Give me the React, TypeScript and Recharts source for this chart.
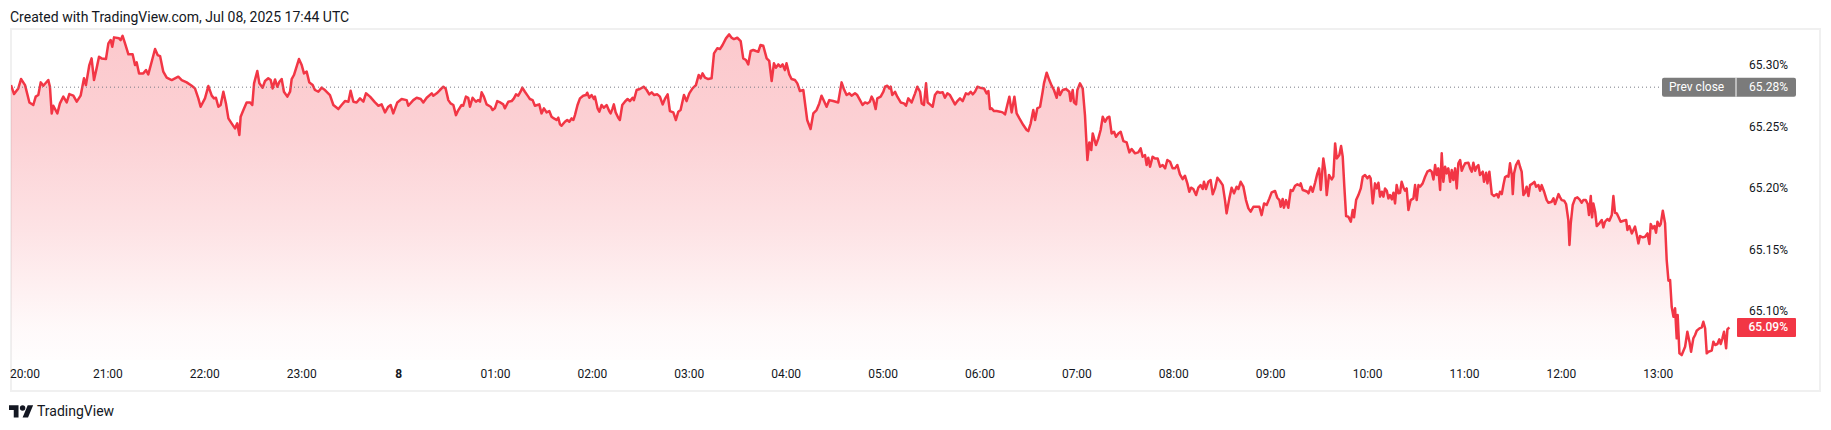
import React from "react";
import { AreaChart, Area, XAxis, YAxis, ReferenceLine } from "recharts";

// minutes since 20:00 (Jul 7), percent value
const evening: [number, number][] = [
  [0, 65.2837], [1.9, 65.2764], [4.5, 65.281], [6.2, 65.2886], [8.7, 65.2837], [11.4, 65.2696], [13.8, 65.2675], [15.3, 65.2743], [16.9, 65.2756], [18.4, 65.2859],
  [20.0, 65.2832], [23.1, 65.2878], [24.1, 65.2824], [25.2, 65.2607], [26.2, 65.2669], [28.7, 65.2607], [30.3, 65.2688], [32.4, 65.2743], [34.5, 65.2696], [36.1, 65.2764],
  [38.6, 65.2751], [40.7, 65.2702], [43.1, 65.2751], [45.2, 65.2892], [46.4, 65.2837], [48.5, 65.3], [49.9, 65.3054], [51.4, 65.2878], [53.0, 65.2973], [54.5, 65.3068],
  [56.1, 65.3054], [58.8, 65.3049], [60.3, 65.3176], [61.7, 65.3203], [62.7, 65.3149], [63.8, 65.3225], [66.9, 65.3217], [67.9, 65.3203], [69.1, 65.3238], [70.6, 65.3176],
  [72.7, 65.3087], [75.3, 65.3087], [76.8, 65.3], [77.8, 65.3022], [79.3, 65.2932], [81.9, 65.2932], [83.6, 65.2959], [85.0, 65.2924], [87.1, 65.3027], [89.2, 65.313],
  [90.8, 65.3081], [92.3, 65.3073], [94.3, 65.2946], [96.4, 65.2897], [99.5, 65.2878], [103.6, 65.2905], [105.7, 65.2878], [108.8, 65.2859], [111.9, 65.2832], [113.9, 65.281],
  [116.0, 65.2729], [117.4, 65.2661], [120.1, 65.2729], [122.2, 65.2829], [124.3, 65.2751], [125.7, 65.2729], [126.9, 65.2734], [128.4, 65.2661], [129.8, 65.2675], [131.5, 65.2783],
  [133.1, 65.2688], [134.6, 65.2566], [136.6, 65.2526], [138.7, 65.2485], [140.1, 65.2526], [141.4, 65.2431], [142.2, 65.258], [143.9, 65.2634], [145.9, 65.2696], [148.0, 65.2696],
  [149.4, 65.2675], [150.5, 65.2851], [152.5, 65.2951], [153.8, 65.2851], [155.8, 65.2816], [157.3, 65.287], [159.3, 65.2892], [160.8, 65.2878], [162.0, 65.281], [163.5, 65.2883],
  [164.9, 65.2824], [166.2, 65.2864], [167.6, 65.2886], [169.0, 65.2783], [171.1, 65.2743], [172.8, 65.2783], [173.8, 65.2886], [175.2, 65.2919], [178.3, 65.3049], [180.0, 65.3],
  [181.4, 65.2932], [183.1, 65.2946], [184.7, 65.2859], [186.8, 65.2837], [188.2, 65.2797], [190.3, 65.2783], [192.4, 65.2816], [194.4, 65.2797], [197.5, 65.2756], [199.6, 65.2675],
  [202.7, 65.2642], [204.7, 65.2675], [206.8, 65.2707], [208.9, 65.2702], [210.3, 65.2791], [212.0, 65.2702], [214.0, 65.2696], [216.1, 65.2729], [218.2, 65.2702], [219.8, 65.277],
  [222.3, 65.2743], [225.4, 65.2696], [227.5, 65.2669], [229.5, 65.268], [231.6, 65.2615], [233.6, 65.2661], [235.1, 65.2675], [236.7, 65.2607], [239.2, 65.2696], [241.9, 65.2724],
  [245.0, 65.2715], [246.0, 65.2669], [249.1, 65.2715], [251.2, 65.2734], [253.7, 65.2724], [255.3, 65.2696], [257.4, 65.2734], [260.5, 65.277], [261.5, 65.2751], [263.6, 65.277],
  [265.6, 65.2797],
];

const overnight: [number, number][] = [
  [267.7, 65.2824], [269.1, 65.281], [270.8, 65.2715], [272.2, 65.2688], [273.9, 65.2675], [275.5, 65.2593], [277.0, 65.2634], [279.0, 65.2675], [280.0, 65.2669], [281.7, 65.2743],
  [283.1, 65.2734], [284.2, 65.2661], [285.8, 65.2734], [287.9, 65.2702], [289.3, 65.2715], [290.4, 65.2702], [291.4, 65.2778], [292.8, 65.2743], [294.5, 65.268], [297.0, 65.2661],
  [298.2, 65.2634], [299.6, 65.2648], [301.1, 65.2707], [303.2, 65.2694], [304.8, 65.268], [305.8, 65.2648], [307.9, 65.2702], [310.0, 65.2707], [311.4, 65.2729], [312.7, 65.2762],
  [314.1, 65.2751], [315.5, 65.2783], [316.6, 65.2816], [318.2, 65.2783], [320.3, 65.2743], [321.3, 65.2724], [323.0, 65.2715], [324.4, 65.2669], [325.9, 65.2675], [327.1, 65.268],
  [328.5, 65.2607], [330.0, 65.2648], [331.6, 65.2615], [333.3, 65.2626], [334.7, 65.258], [336.2, 65.2566], [337.8, 65.2553], [338.9, 65.2572], [339.9, 65.2518], [340.9, 65.2507],
  [343.0, 65.2539], [344.4, 65.2553], [345.7, 65.2539], [347.1, 65.2566], [348.2, 65.2553], [349.2, 65.2593], [350.8, 65.2675], [352.3, 65.2729], [354.3, 65.2751], [356.0, 65.2756],
  [356.8, 65.2775], [358.1, 65.2734], [359.5, 65.2756], [361.0, 65.2724], [361.6, 65.2743], [363.2, 65.2648], [364.3, 65.2621], [365.7, 65.2675], [367.1, 65.2653], [368.8, 65.2675],
  [370.4, 65.2626], [371.3, 65.2607], [372.5, 65.2648], [373.3, 65.268], [374.4, 65.2615], [376.0, 65.2572], [377.0, 65.2553], [378.5, 65.2675], [380.1, 65.2702], [381.8, 65.2724],
  [383.2, 65.2707], [384.9, 65.2734], [385.7, 65.2715], [386.3, 65.2743], [387.4, 65.2797], [389.4, 65.2805], [391.9, 65.2824], [393.6, 65.2797], [395.2, 65.2762], [396.7, 65.2778],
  [398.3, 65.2756], [400.2, 65.2762], [401.8, 65.2743], [403.5, 65.268], [404.9, 65.2724], [406.6, 65.2762], [408.0, 65.2626], [410.1, 65.2615], [411.7, 65.2553], [413.2, 65.2621],
  [414.6, 65.2634], [416.7, 65.2756], [418.3, 65.2707], [420.0, 65.277], [422.0, 65.281], [424.1, 65.2837], [425.8, 65.2919], [427.0, 65.2892], [428.2, 65.2932], [429.7, 65.2897],
  [431.7, 65.2886], [433.8, 65.2892], [435.3, 65.3095], [437.3, 65.3136], [439.0, 65.313], [440.6, 65.3163], [442.7, 65.3217], [444.7, 65.3249], [446.2, 65.3222], [447.6, 65.3211],
  [449.7, 65.3222], [451.8, 65.3195], [453.4, 65.3054], [455.1, 65.3041], [456.5, 65.3005], [458.0, 65.3114], [459.6, 65.3122], [461.3, 65.3114], [462.7, 65.3108], [464.1, 65.3163],
  [465.8, 65.3157], [467.9, 65.3054], [469.5, 65.3033], [471.0, 65.287], [472.4, 65.3014], [473.6, 65.2978], [475.1, 65.3005], [476.5, 65.2986], [477.8, 65.3005], [479.2, 65.2959],
  [480.2, 65.3014], [481.9, 65.2924], [483.3, 65.2886], [485.4, 65.2878], [486.9, 65.2851], [488.5, 65.2789], [490.6, 65.2797], [493.0, 65.2553], [495.1, 65.248], [496.8, 65.2607],
  [498.8, 65.2634], [500.5, 65.2688], [501.9, 65.2751], [503.4, 65.2707], [505.0, 65.2661], [506.7, 65.2715], [509.1, 65.2707], [512.2, 65.2696], [514.3, 65.2859], [515.7, 65.2805],
  [517.4, 65.2756], [519.1, 65.277], [520.5, 65.2751], [522.6, 65.277], [524.0, 65.2756], [525.7, 65.2715], [527.3, 65.2675], [528.8, 65.2696], [530.2, 65.2688], [531.8, 65.2702],
];

const morning: [number, number][] = [
  [532.9, 65.2743], [534.0, 65.2715], [535.4, 65.2642], [536.4, 65.2729], [538.5, 65.2743], [540.2, 65.2783], [541.2, 65.2824], [542.6, 65.2832], [543.9, 65.281], [544.7, 65.2824],
  [545.7, 65.2756], [547.4, 65.2783], [548.8, 65.2743], [550.9, 65.2696], [552.9, 65.2688], [554.2, 65.2669], [555.6, 65.2729], [557.7, 65.2696], [559.8, 65.277], [561.2, 65.2824],
  [562.9, 65.2783], [563.9, 65.2688], [565.3, 65.2675], [566.6, 65.2851], [567.6, 65.2696], [569.0, 65.268], [570.7, 65.2661], [572.1, 65.2756], [573.6, 65.2783], [575.2, 65.2775],
  [576.9, 65.2778], [578.3, 65.2734], [579.8, 65.277], [581.4, 65.2756], [583.1, 65.2715], [584.5, 65.268], [586.0, 65.2707], [587.6, 65.2729], [589.3, 65.2707], [591.3, 65.277],
  [592.8, 65.2762], [594.2, 65.2783], [595.5, 65.2762], [596.9, 65.2783], [598.4, 65.2824], [600.0, 65.2816], [602.5, 65.281], [604.1, 65.277], [605.2, 65.2789], [606.2, 65.2642],
  [607.2, 65.2648], [608.7, 65.2626], [610.3, 65.2626], [612.4, 65.2621], [614.0, 65.2615], [615.5, 65.2599], [616.9, 65.2675], [618.2, 65.2743], [619.6, 65.2615], [621.3, 65.2743],
  [622.7, 65.2607], [624.4, 65.2566], [626.8, 65.2512], [628.9, 65.2472], [629.9, 65.2463], [631.4, 65.2526], [633.0, 65.2634], [634.1, 65.2553], [635.5, 65.2648], [637.2, 65.2661],
  [638.8, 65.2783], [639.6, 65.2851], [641.3, 65.2938], [642.9, 65.2878], [644.4, 65.2832], [645.8, 65.2797], [647.5, 65.2734], [648.5, 65.2816], [649.5, 65.2756], [651.2, 65.2797],
  [653.3, 65.2805], [655.3, 65.2783], [656.1, 65.2707], [657.4, 65.2797], [658.2, 65.2696], [659.5, 65.268], [660.3, 65.2797], [661.9, 65.2851], [663.6, 65.281], [665.0, 65.2593],
  [666.5, 65.2228], [667.7, 65.2371], [668.9, 65.2309], [669.8, 65.2444], [671.8, 65.235], [673.3, 65.2404], [674.7, 65.2472], [676.0, 65.258], [677.4, 65.2539], [678.9, 65.2572],
  [680.1, 65.258], [681.5, 65.2444], [683.0, 65.2458], [684.2, 65.2417], [685.7, 65.2444], [687.1, 65.2458], [688.8, 65.2382], [690.8, 65.2371], [692.5, 65.229], [693.9, 65.2317],
  [696.0, 65.2282], [698.0, 65.229], [699.5, 65.2322], [700.7, 65.2255], [702.2, 65.2268], [703.2, 65.2187], [704.2, 65.2247], [705.3, 65.2173], [706.9, 65.2255], [708.4, 65.2241],
  [710.0, 65.2241], [711.5, 65.2173], [713.1, 65.2187], [714.6, 65.216], [716.0, 65.2228], [717.7, 65.2214], [719.3, 65.216], [720.7, 65.216], [722.2, 65.2187], [723.8, 65.2111],
  [725.5, 65.2073], [726.9, 65.21], [728.4, 65.2038], [729.6, 65.197], [730.7, 65.2003], [732.1, 65.1992], [733.8, 65.1943], [735.2, 65.2003], [736.6, 65.2024], [737.9, 65.1992],
  [738.7, 65.2051], [739.9, 65.1992], [741.4, 65.2051], [742.8, 65.2065], [744.1, 65.1949], [745.5, 65.1997], [747.0, 65.2084], [748.6, 65.2057], [750.3, 65.2024], [751.7, 65.1902],
  [752.7, 65.1794], [754.4, 65.1916], [755.8, 65.2003], [757.3, 65.1957], [758.9, 65.2011], [760.0, 65.1992], [761.4, 65.2051], [763.1, 65.2011], [764.7, 65.1902], [766.2, 65.1835],
  [767.6, 65.1808], [769.3, 65.1848], [770.9, 65.1848], [773.0, 65.1848], [774.4, 65.178], [775.9, 65.1875], [777.5, 65.1862], [779.2, 65.1916], [780.6, 65.1965], [782.7, 65.1976],
  [784.1, 65.1921], [785.4, 65.1902], [786.2, 65.1848], [787.4, 65.1911], [788.2, 65.184], [789.5, 65.1902], [790.9, 65.184], [792.4, 65.1984], [793.6, 65.1976], [795.1, 65.2019],
  [796.5, 65.203], [798.2, 65.2019],
];

const session: [number, number][] = [
  [798.6, 65.2038], [799.8, 65.1984], [801.3, 65.1978], [802.7, 65.197], [803.4, 65.1957], [804.8, 65.2011], [806.0, 65.197], [807.5, 65.2043], [808.9, 65.2119], [810.0, 65.216],
  [811.0, 65.1984], [812.6, 65.2241], [813.7, 65.2146], [814.7, 65.1943], [816.1, 65.2106], [817.8, 65.207], [818.8, 65.2092], [819.9, 65.2363], [820.9, 65.2241], [822.5, 65.2268],
  [823.6, 65.2341], [824.6, 65.2255], [825.6, 65.2011], [826.7, 65.1772], [828.1, 65.1767], [829.6, 65.1726], [830.8, 65.1821], [831.6, 65.1762], [832.9, 65.1902], [834.3, 65.1943],
  [835.8, 65.1997], [837.0, 65.2092], [838.4, 65.2106], [839.9, 65.2079], [841.1, 65.2098], [841.9, 65.2079], [843.2, 65.1875], [844.6, 65.2038], [845.7, 65.1997], [846.7, 65.2043],
  [847.7, 65.193], [848.8, 65.197], [849.8, 65.193], [850.8, 65.1997], [851.9, 65.1978], [852.9, 65.1916], [853.9, 65.1943], [855.0, 65.1908], [856.0, 65.1962], [857.0, 65.1875],
  [858.0, 65.2024], [859.1, 65.1957], [860.1, 65.1962], [861.1, 65.2051], [862.2, 65.2005], [863.2, 65.1978], [864.2, 65.1997], [865.3, 65.1821], [866.7, 65.1902], [868.4, 65.1916],
  [869.4, 65.2024], [870.4, 65.1902], [871.5, 65.2024], [872.5, 65.2011], [874.1, 65.2038], [875.6, 65.2092], [877.0, 65.2133], [878.7, 65.2146], [879.7, 65.2133], [880.8, 65.207],
  [881.8, 65.2187], [882.8, 65.2106], [883.8, 65.216], [884.9, 65.1984], [885.9, 65.2282], [886.9, 65.2051], [888.0, 65.2173], [889.0, 65.2119], [890.0, 65.216], [891.1, 65.2051],
  [892.1, 65.2146], [893.1, 65.2065], [894.2, 65.216], [895.2, 65.1997], [896.2, 65.2201], [897.3, 65.2228], [898.3, 65.2141], [899.3, 65.2173], [900.4, 65.2201], [902.4, 65.2206],
  [903.5, 65.216], [904.5, 65.2133], [905.5, 65.2206], [906.6, 65.2141], [907.6, 65.2173], [908.6, 65.2187], [909.6, 65.2106], [911.3, 65.2133], [912.1, 65.2051], [913.4, 65.2125],
  [914.2, 65.2038], [915.4, 65.2133], [916.9, 65.1951], [918.3, 65.1935], [920.0, 65.1951], [921.0, 65.1924], [922.0, 65.197], [923.1, 65.1951], [924.1, 65.2024], [925.1, 65.2087],
  [926.2, 65.2098], [927.2, 65.2092], [928.2, 65.2201], [929.3, 65.2106], [929.9, 65.1951], [930.7, 65.2119], [931.9, 65.2187], [933.4, 65.2222], [934.4, 65.2173], [935.4, 65.2133],
  [936.5, 65.1943], [937.5, 65.1962], [938.5, 65.2011], [939.6, 65.1935], [940.6, 65.2024], [942.3, 65.2038], [943.3, 65.2051], [944.3, 65.2011], [945.8, 65.2024], [946.8, 65.1978],
  [947.8, 65.2024], [949.3, 65.197], [950.9, 65.1902], [952.0, 65.1881], [954.0, 65.1889], [955.1, 65.1916], [956.1, 65.187], [957.1, 65.1908], [958.2, 65.1951], [959.2, 65.1924],
  [960.2, 65.1902], [961.7, 65.1897], [962.9, 65.187], [964.3, 65.174], [965.0, 65.1537], [965.8, 65.1713], [967.0, 65.1862], [968.5, 65.1916], [969.9, 65.1924], [971.2, 65.1908],
  [972.6, 65.1881], [973.6, 65.1902], [975.1, 65.1902], [976.3, 65.187], [977.1, 65.178], [978.2, 65.1935], [979.0, 65.1762], [979.8, 65.1875], [980.9, 65.1808], [981.9, 65.1691],
  [983.5, 65.1713], [985.0, 65.174], [986.0, 65.168], [987.0, 65.1726], [988.5, 65.1748], [989.7, 65.1734], [991.2, 65.178], [992.2, 65.1935], [993.2, 65.1799], [994.3, 65.1794],
  [995.3, 65.1767], [996.7, 65.1726], [998.4, 65.1734], [1000.1, 65.174], [1000.9, 65.1659], [1002.1, 65.1691], [1003.6, 65.1631], [1004.6, 65.1659], [1005.6, 65.1686], [1006.7, 65.1618],
  [1007.7, 65.155], [1008.7, 65.161], [1010.4, 65.1599], [1011.8, 65.1604], [1013.3, 65.1631], [1014.5, 65.1545], [1015.3, 65.1707], [1016.6, 65.1672], [1017.6, 65.1691], [1018.6, 65.1637],
  [1019.5, 65.1726], [1020.7, 65.1691], [1021.5, 65.1707], [1022.8, 65.1816], [1024.2, 65.1713], [1025.2, 65.1415], [1026.3, 65.1247], [1027.3, 65.1252], [1028.3, 65.1035], [1029.4, 65.0954],
  [1030.4, 65.1022], [1031.4, 65.0778], [1032.0, 65.0967], [1033.1, 65.0656], [1034.5, 65.0642], [1036.6, 65.071], [1038.0, 65.0832], [1039.3, 65.0751], [1040.3, 65.0669], [1041.7, 65.0778],
  [1042.8, 65.0805], [1043.8, 65.084], [1045.5, 65.0859], [1046.9, 65.0867], [1047.9, 65.0913], [1049.0, 65.0859], [1050.0, 65.0656], [1051.0, 65.0669], [1053.1, 65.0678], [1054.1, 65.0751],
  [1055.2, 65.0724], [1056.6, 65.0732], [1057.8, 65.077], [1058.7, 65.0732], [1059.7, 65.0778], [1060.7, 65.0832], [1062.0, 65.0697], [1062.8, 65.0851], [1064.0, 65.0867],
];

const hourTicks = [0, 60, 120, 180, 240, 300, 360, 420, 480, 540, 600, 660, 720, 780, 840, 900, 960, 1020];
const hourLabels = ["20:00", "21:00", "22:00", "23:00", "8", "01:00", "02:00", "03:00", "04:00", "05:00", "06:00", "07:00", "08:00", "09:00", "10:00", "11:00", "12:00", "13:00"];
const priceTicks = [65.1, 65.15, 65.2, 65.25, 65.3];
const PREV_CLOSE = 65.282;
const PREV_CLOSE_LABEL = "65.28%";
const X_DOMAIN: [number, number] = [0, 1067.5];
const Y_DOMAIN: [number, number] = [65.0602, 65.3293];

const data = [...evening, ...overnight, ...morning, ...session].map(([t, v]) => ({ t, v }));
const last = data[data.length - 1];

const FONT = "Roboto, 'Noto Sans', sans-serif";
const RED = "#F23645";
const TEXT = "#131722";
const LABEL_RIGHT = 1788;

const TimeTick = (props: any) => {
  const { x, y, payload } = props;
  const i = hourTicks.indexOf(payload.value);
  const label = hourLabels[i];
  const first = i === 0;
  return (
    <text
      x={first ? x - 1 : x}
      y={y + 10}
      textAnchor={first ? "start" : "middle"}
      fontSize={12}
      fontFamily={FONT}
      fill={TEXT}
      fontWeight={label === "8" ? 700 : 400}
    >
      {label}
    </text>
  );
};

const PriceTick = (props: any) => {
  const { y, payload } = props;
  return (
    <text x={LABEL_RIGHT} y={y + 4} textAnchor="end" fontSize={12} fontFamily={FONT} fill={TEXT}>
      {payload.value.toFixed(2)}%
    </text>
  );
};

const PrevBadge = (props: any) => {
  const vb = props.viewBox || {};
  const cy = vb.y;
  const right = vb.x + vb.width;
  const left = right - 73;
  return (
    <g>
      <rect x={left} y={cy - 9.5} width={134} height={19} rx={2} fill="#7b7b7b" />
      <line x1={right + 1} x2={right + 1} y1={cy - 9.5} y2={cy + 9.5} stroke="#ffffff" strokeWidth={1} />
      <text x={left + 7} y={cy + 4} fontSize={12} fontFamily={FONT} fill="#ffffff">Prev close</text>
      <text x={LABEL_RIGHT} y={cy + 4} textAnchor="end" fontSize={12} fontFamily={FONT} fill="#ffffff">{PREV_CLOSE_LABEL}</text>
    </g>
  );
};

const LastBadge = (props: any) => {
  const vb = props.viewBox || {};
  const cy = vb.y;
  const right = vb.x + vb.width;
  return (
    <g>
      <rect x={right + 2} y={cy - 9.5} width={59} height={19} rx={1} fill={RED} />
      <text x={LABEL_RIGHT} y={cy + 4} textAnchor="end" fontSize={12} fontFamily={FONT} fill="#ffffff" fontWeight={500}>
        {last.v.toFixed(2)}%
      </text>
    </g>
  );
};

export default function App() {
  return (
    <div style={{ position: "absolute", left: 0, top: 0, width: 1831, height: 430, background: "#ffffff", overflow: "hidden" }}>
      <svg width={1831} height={430} style={{ position: "absolute", left: 0, top: 0 }}>
        <text x={10} y={22} fontSize={14} fontFamily={FONT} fill={TEXT}>
          Created with TradingView.com, Jul 08, 2025 17:44 UTC
        </text>
        <rect x={11} y={29} width={1809} height={362} fill="none" stroke="#f0f0f0" strokeWidth={2} />
        <g transform="translate(9, 402.5) scale(0.68)" fill={TEXT}>
          <path d="M14 22H7V11H0V4h14v18zM28 22h-8l7.5-18h8L28 22z" />
          <circle cx={20} cy={8} r={4} />
        </g>
        <text x={37} y={416} fontSize={14} fontFamily={FONT} fill={TEXT}>TradingView</text>
      </svg>
      <div style={{ position: "absolute", left: 0, top: 0 }}>
        <AreaChart width={1831} height={430} data={data} margin={{ top: 29, right: 11, left: 11, bottom: 30 }}>
          <defs>
            <linearGradient id="tvFill" x1="0" y1="0" x2="0" y2="1">
              <stop offset="0%" stopColor={RED} stopOpacity={0.27} />
              <stop offset="30%" stopColor={RED} stopOpacity={0.23} />
              <stop offset="60%" stopColor={RED} stopOpacity={0.14} />
              <stop offset="90%" stopColor={RED} stopOpacity={0.03} />
              <stop offset="100%" stopColor={RED} stopOpacity={0.01} />
            </linearGradient>
          </defs>
          <XAxis
            dataKey="t"
            type="number"
            domain={X_DOMAIN}
            ticks={hourTicks}
            interval={0}
            allowDataOverflow
            height={40}
            axisLine={false}
            tickLine={false}
            tick={<TimeTick />}
          />
          <YAxis
            orientation="right"
            type="number"
            domain={Y_DOMAIN}
            ticks={priceTicks}
            allowDataOverflow
            width={85}
            axisLine={false}
            tickLine={false}
            tick={<PriceTick />}
            interval={0}
          />
          <Area
            type="linear"
            dataKey="v"
            stroke={RED}
            strokeWidth={2.5}
            strokeLinejoin="round"
            fill="url(#tvFill)"
            fillOpacity={1}
            isAnimationActive={false}
            dot={false}
            activeDot={false}
          />
          <ReferenceLine y={PREV_CLOSE} stroke="#787b86" strokeWidth={1} strokeDasharray="1 3" label={(p: any) => <PrevBadge {...p} />} />
          <ReferenceLine y={last.v} stroke="none" strokeOpacity={0} label={(p: any) => <LastBadge {...p} />} />
        </AreaChart>
      </div>
    </div>
  );
}
